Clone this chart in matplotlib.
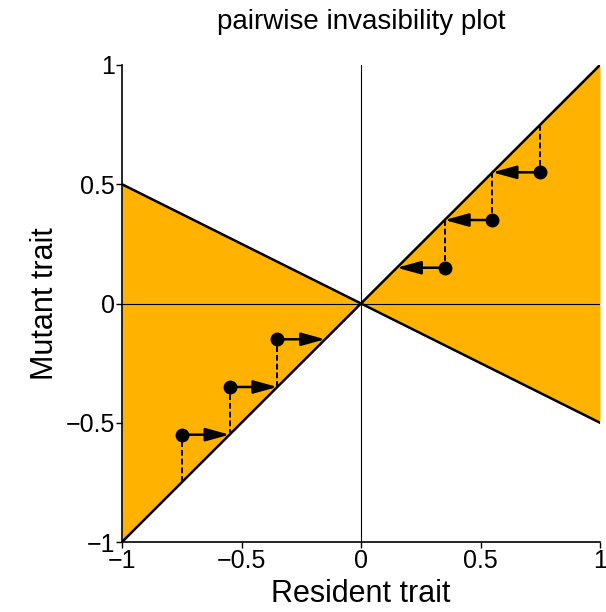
import numpy as np
import matplotlib
matplotlib.use("Agg")
import matplotlib.pyplot as plt

plt.rcParams['font.family'] = ['Liberation Sans', 'DejaVu Sans']

# Boundaries of the invasion region: the diagonal y = x and the line y = slope * x
slope = -0.5
x_edge = [-1.0, 0.0, 1.0]

# Evolutionary trajectory (resident, mutant) on each side of the singular point
left_resident = [-0.75, -0.55, -0.35]
left_mutant = [-0.55, -0.35, -0.15]
right_resident = [0.75, 0.55, 0.35]
right_mutant = [0.55, 0.35, 0.15]

ticks = [-1, -0.5, 0, 0.5, 1]
tick_labels = ['\u22121', '\u22120.5', '0', '0.5', '1']

orange = '#FFB300'

fig = plt.figure(figsize=(6.06, 6.12), dpi=100)
ax = fig.add_axes([122 / 606, 70 / 612, 478 / 606, 477 / 612])

xl = np.array([-1.0, 0.0])
ax.fill_between(xl, xl, slope * xl, color=orange, lw=0)
xr = np.array([0.0, 1.0])
ax.fill_between(xr, slope * xr, xr, color=orange, lw=0)

xs = np.array(x_edge)
ax.plot(xs, xs, color='black', lw=1.8)
ax.plot(xs, slope * xs, color='black', lw=1.8)
ax.axhline(0, color='black', lw=0.8)
ax.axvline(0, color='black', lw=0.8)

def draw_steps(res, mut):
    for r, m in zip(res, mut):
        # vertical dashed line from the diagonal to the mutant point
        ax.plot([r, r], [r, m], color='black', lw=1.4, ls=(0, (3, 1.5)))
        # arrow: mutant replaces resident
        ax.annotate('', xy=(m, m), xytext=(r, m),
                    arrowprops=dict(arrowstyle='-|>,head_length=1.45,head_width=0.4',
                                    color='black', lw=1.8, shrinkA=0, shrinkB=0,
                                    mutation_scale=10))
        ax.plot([r], [m], 'o', color='black', ms=9, zorder=5)

draw_steps(left_resident, left_mutant)
draw_steps(right_resident, right_mutant)

ax.set_xlim(-1, 1)
ax.set_ylim(-1, 1)
ax.set_xticks(ticks)
ax.set_xticklabels(tick_labels)
ax.set_yticks(ticks)
ax.set_yticklabels(tick_labels)
ax.tick_params(direction='out', length=4, width=1, labelsize=18, pad=1)
for s in ['top', 'right']:
    ax.spines[s].set_visible(False)
for s in ['left', 'bottom']:
    ax.spines[s].set_linewidth(1.2)

ax.set_xlabel('Resident trait', fontsize=22, labelpad=4)
ax.set_ylabel('Mutant trait', fontsize=22, labelpad=4)
fig.text(361 / 606, 1 - 22 / 612, 'pairwise invasibility plot', fontsize=20,
         ha='center', va='center')

fig.savefig('out.png', dpi=100)
